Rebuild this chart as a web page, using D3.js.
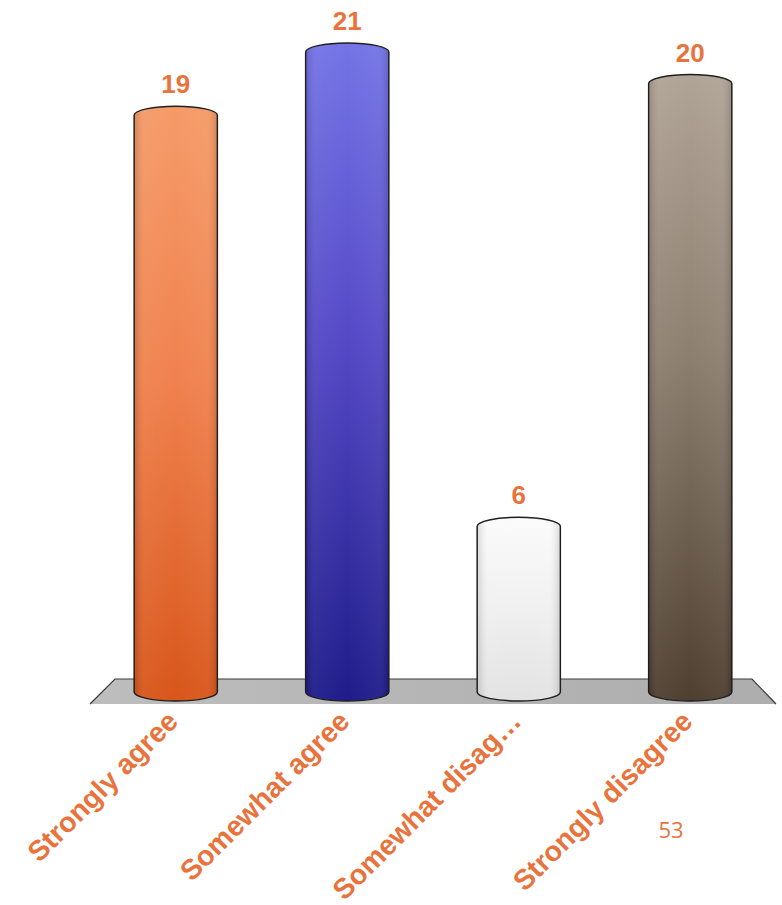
<!DOCTYPE html>
<html>
<head>
<meta charset="utf-8">
<script src="https://cdn.jsdelivr.net/npm/d3@7/dist/d3.min.js"></script>
<style>
  html, body { margin: 0; padding: 0; background: #ffffff; }
  svg { display: block; }
</style>
</head>
<body>
<svg id="chart" width="782" height="905"></svg>
<script>
// Survey responses
const categories = ["Strongly agree", "Somewhat agree", "Somewhat disag\u2026", "Strongly disagree"];
const counts = [19, 21, 6, 20];
// Cylinder colours: [top, middle, bottom]
const barColors = [
  ["#f59b68", "#f0824f", "#d8561a"],
  ["#7474e6", "#5549c6", "#1f1c8a"],
  ["#fbfbfb", "#f1f1f1", "#e2e2e2"],
  ["#b0a496", "#8c7f70", "#4f3f30"]
];
const pageNumber = "53";

const svg = d3.select("#chart");
const labelColor = "#e8733c";

const x = d3.scaleBand()
  .domain(categories)
  .range([90, 776])
  .paddingInner(0.515)
  .paddingOuter(0.2575);

const y = d3.scaleLinear().domain([0, 21]).range([716, 52]);

const floorTop = 679, floorBottom = 704;
const baseY = 692;   // centre of each cylinder's bottom ellipse
const ry = 9;

const defs = svg.append("defs");
barColors.forEach((c, i) => {
  const g = defs.append("linearGradient")
    .attr("id", "bar-grad-" + i)
    .attr("x1", 0).attr("y1", 0).attr("x2", 0).attr("y2", 1);
  g.append("stop").attr("offset", "0%").attr("stop-color", c[0]);
  g.append("stop").attr("offset", "45%").attr("stop-color", c[1]);
  g.append("stop").attr("offset", "100%").attr("stop-color", c[2]);
});
// soft side shading across each cylinder
const shade = defs.append("linearGradient")
  .attr("id", "side-shade")
  .attr("x1", 0).attr("y1", 0).attr("x2", 1).attr("y2", 0);
shade.append("stop").attr("offset", "0%").attr("stop-color", "#000").attr("stop-opacity", 0.12);
shade.append("stop").attr("offset", "12%").attr("stop-color", "#fff").attr("stop-opacity", 0.04);
shade.append("stop").attr("offset", "50%").attr("stop-color", "#fff").attr("stop-opacity", 0.0);
shade.append("stop").attr("offset", "88%").attr("stop-color", "#fff").attr("stop-opacity", 0.04);
shade.append("stop").attr("offset", "100%").attr("stop-color", "#000").attr("stop-opacity", 0.12);

const floorGrad = defs.append("linearGradient")
  .attr("id", "floor-grad")
  .attr("x1", 0).attr("y1", 0).attr("x2", 1).attr("y2", 0);
floorGrad.append("stop").attr("offset", "0%").attr("stop-color", "#bdbdbd");
floorGrad.append("stop").attr("offset", "100%").attr("stop-color", "#adadad");

// Floor plate
const [r0, r1] = x.range();
svg.append("path")
  .attr("d", `M${r0},${floorBottom} L${r0 + 25},${floorTop} L${r1 - 24},${floorTop} L${r1},${floorBottom} Z`)
  .attr("fill", "url(#floor-grad)")
  .attr("stroke", "none");
svg.append("path")
  .attr("d", `M${r0},${floorBottom} L${r0 + 25},${floorTop} L${r1 - 24},${floorTop} L${r1},${floorBottom}`)
  .attr("fill", "none")
  .attr("stroke", "#3a3a3a")
  .attr("stroke-width", 1.2);

function cylinderPath(left, right, top, bottom) {
  const rx = (right - left) / 2;
  return `M${left},${top} L${left},${bottom} A${rx},${ry} 0 0 0 ${right},${bottom} ` +
         `L${right},${top} A${rx},${ry} 0 0 0 ${left},${top} Z`;
}

const bars = svg.append("g").selectAll("g")
  .data(categories.map((c, i) => ({ cat: c, value: counts[i], i })))
  .join("g");

bars.append("path")
  .attr("d", d => cylinderPath(x(d.cat), x(d.cat) + x.bandwidth(), y(d.value), baseY))
  .attr("fill", d => `url(#bar-grad-${d.i})`)
  .attr("stroke", "#1e1e1e")
  .attr("stroke-width", 1.5);

bars.append("path")
  .attr("d", d => cylinderPath(x(d.cat) + 1, x(d.cat) + x.bandwidth() - 1, y(d.value), baseY))
  .attr("fill", "url(#side-shade)")
  .attr("stroke", "none");

// Value labels
bars.append("text")
  .attr("x", d => x(d.cat) + x.bandwidth() / 2)
  .attr("y", d => y(d.value) - ry - 13)
  .attr("text-anchor", "middle")
  .attr("font-family", "'Liberation Sans', Arial, sans-serif")
  .attr("font-weight", "bold")
  .attr("font-size", 26)
  .attr("fill", labelColor)
  .text(d => d.value);

// Category labels
svg.append("g").selectAll("text")
  .data(categories)
  .join("text")
  .attr("transform", d => `translate(${x(d) + x.bandwidth() / 2 + 4},${723}) rotate(-45)`)
  .attr("text-anchor", "end")
  .attr("font-family", "'Liberation Sans', Arial, sans-serif")
  .attr("font-weight", "bold")
  .attr("font-size", 28.4)
  .attr("fill", labelColor)
  .text(d => d);

// Page number
svg.append("text")
  .attr("x", 671)
  .attr("y", 838)
  .attr("text-anchor", "middle")
  .attr("font-family", "'Open Sans', sans-serif")
  .attr("font-size", 22)
  .attr("fill", labelColor)
  .text(pageNumber);
</script>
</body>
</html>
